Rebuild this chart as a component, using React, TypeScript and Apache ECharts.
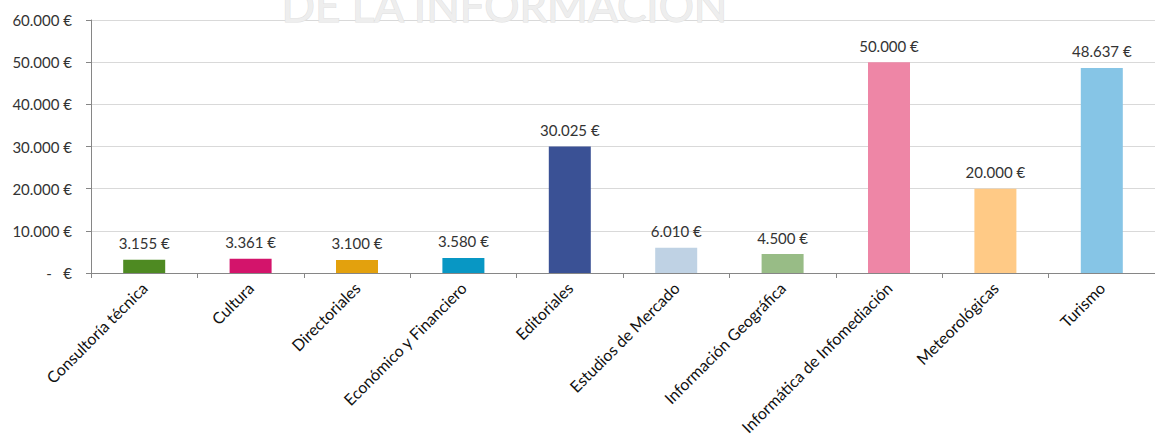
import React, { useEffect, useRef } from "react";
import * as echarts from "echarts";

const categories = [
  "Consultoría técnica",
  "Cultura",
  "Directoriales",
  "Económico y Financiero",
  "Editoriales",
  "Estudios de Mercado",
  "Información Geográfica",
  "Informática de Infomediación",
  "Meteorológicas",
  "Turismo",
];
const values = [3155, 3361, 3100, 3580, 30025, 6010, 4500, 50000, 20000, 48637];
const barColors = [
  "#4e8a22",
  "#d3146b",
  "#e3a10d",
  "#0897c4",
  "#3a5195",
  "#bfd2e4",
  "#98bc86",
  "#ee86a6",
  "#ffca86",
  "#86c5e6",
];
const watermarkText = "DE LA INFORMACIÓN";

function fmt(v: number): string {
  if (v === 0) return "-   €";
  const s = Math.round(v).toString().replace(/\B(?=(\d{3})+(?!\d))/g, ".");
  return s + " €";
}

export default function App() {
  const ref = useRef<HTMLDivElement>(null);
  useEffect(() => {
    document.body.style.margin = "0";
    const chart = echarts.init(ref.current!, null, { renderer: "svg" });
    const font = "Lato, 'Open Sans', sans-serif";
    chart.setOption({
      animation: false,
      backgroundColor: "#ffffff",
      grid: { left: 91, right: -7, top: 20, bottom: 171, containLabel: false },
      xAxis: {
        type: "category",
        data: categories,
        axisLine: { show: true, lineStyle: { color: "#868686", width: 1 } },
        axisTick: { show: true, length: 5, lineStyle: { color: "#868686" } },
        axisLabel: {
          rotate: 45,
          interval: 0,
          margin: 12,
          fontSize: 16,
          fontFamily: font,
          color: "#111",
        },
      },
      yAxis: {
        type: "value",
        min: 0,
        max: 60000,
        interval: 10000,
        axisLine: { show: true, lineStyle: { color: "#868686", width: 1 } },
        axisTick: { show: true, length: 5, lineStyle: { color: "#868686" } },
        splitLine: { show: true, lineStyle: { color: "#d9d9d9", width: 1 } },
        axisLabel: {
          margin: 19,
          fontSize: 15,
          fontFamily: font,
          color: "#333",
          formatter: (v: number) => fmt(v),
        },
      },
      series: [
        {
          type: "bar",
          barWidth: 42,
          data: values.map((v, i) => ({ value: v, itemStyle: { color: barColors[i] } })),
          label: {
            show: true,
            position: "top",
            distance: 9,
            fontSize: 15,
            fontFamily: font,
            color: "#333",
            formatter: (p: any) => fmt(p.value),
          },
        },
      ],
      graphic: [
        {
          type: "text",
          left: 281,
          top: -18,
          z: 100,
          style: {
            text: watermarkText,
            fontSize: 44,
            fontFamily: font,
            fill: "#eeeeee",
            stroke: "#e0e0e0",
            lineWidth: 1,
          },
        },
      ],
    });
    return () => chart.dispose();
  }, []);
  return <div ref={ref} style={{ width: 1155, height: 444 }} />;
}
